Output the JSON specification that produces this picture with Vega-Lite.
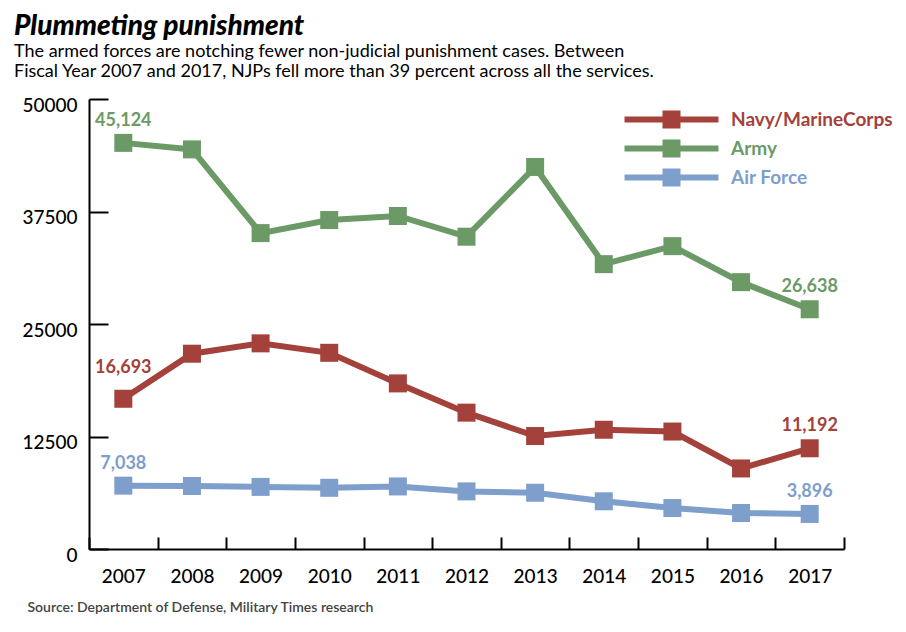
{
  "$schema": "https://vega.github.io/schema/vega-lite/v6.json",
  "width": 755,
  "height": 450,
  "autosize": {"type": "none"},
  "padding": {"left": 89, "top": 99, "right": 62, "bottom": 83},
  "background": "white",
  "title": {
    "text": "Plummeting punishment",
    "subtitle": [
      "The armed forces are notching fewer non-judicial punishment cases. Between",
      "Fiscal Year 2007 and 2017, NJPs fell more than 39 percent across all the services."
    ],
    "anchor": "start",
    "frame": "group",
    "dx": -75,
    "offset": 15,
    "font": "Lato",
    "fontSize": 28,
    "fontWeight": 900,
    "fontStyle": "italic",
    "color": "black",
    "subtitleFont": "Lato",
    "subtitleFontSize": 18,
    "subtitleColor": "black",
    "subtitleLineHeight": 20,
    "subtitlePadding": 2
  },
  "config": {"view": {"stroke": null}, "font": "Lato"},
  "data": {
    "values": [
      {"year": "2007", "service": "Army", "cases": 45124},
      {"year": "2008", "service": "Army", "cases": 44400},
      {"year": "2009", "service": "Army", "cases": 35100},
      {"year": "2010", "service": "Army", "cases": 36550},
      {"year": "2011", "service": "Army", "cases": 37000},
      {"year": "2012", "service": "Army", "cases": 34700},
      {"year": "2013", "service": "Army", "cases": 42450},
      {"year": "2014", "service": "Army", "cases": 31650},
      {"year": "2015", "service": "Army", "cases": 33650},
      {"year": "2016", "service": "Army", "cases": 29650},
      {"year": "2017", "service": "Army", "cases": 26638},
      {"year": "2007", "service": "Navy/MarineCorps", "cases": 16693},
      {"year": "2008", "service": "Navy/MarineCorps", "cases": 21700},
      {"year": "2009", "service": "Navy/MarineCorps", "cases": 22850},
      {"year": "2010", "service": "Navy/MarineCorps", "cases": 21800},
      {"year": "2011", "service": "Navy/MarineCorps", "cases": 18400},
      {"year": "2012", "service": "Navy/MarineCorps", "cases": 15150},
      {"year": "2013", "service": "Navy/MarineCorps", "cases": 12550},
      {"year": "2014", "service": "Navy/MarineCorps", "cases": 13250},
      {"year": "2015", "service": "Navy/MarineCorps", "cases": 13050},
      {"year": "2016", "service": "Navy/MarineCorps", "cases": 8950},
      {"year": "2017", "service": "Navy/MarineCorps", "cases": 11192},
      {"year": "2007", "service": "Air Force", "cases": 7038},
      {"year": "2008", "service": "Air Force", "cases": 7000},
      {"year": "2009", "service": "Air Force", "cases": 6900},
      {"year": "2010", "service": "Air Force", "cases": 6800},
      {"year": "2011", "service": "Air Force", "cases": 6950},
      {"year": "2012", "service": "Air Force", "cases": 6400},
      {"year": "2013", "service": "Air Force", "cases": 6250},
      {"year": "2014", "service": "Air Force", "cases": 5300},
      {"year": "2015", "service": "Air Force", "cases": 4550},
      {"year": "2016", "service": "Air Force", "cases": 4000},
      {"year": "2017", "service": "Air Force", "cases": 3896}
    ]
  },
  "encoding": {
    "x": {
      "field": "year",
      "type": "ordinal",
      "scale": {"type": "band", "paddingInner": 0, "paddingOuter": 0},
      "axis": {
        "title": "Source:  Department of Defense, Military Times research",
        "titleAnchor": "start",
        "titleX": -62,
        "titleY": 62,
        "titleAlign": "left",
        "titleBaseline": "alphabetic",
        "titleFont": "Lato",
        "titleFontSize": 14,
        "titleFontWeight": 600,
        "titleColor": "#444444",
        "labelAngle": 0,
        "labelFont": "Lato",
        "labelFontSize": 19,
        "labelFontWeight": 500,
        "labelColor": "black",
        "labelPadding": 30,
        "tickBand": "extent",
        "tickSize": -12,
        "tickWidth": 2,
        "tickColor": "black",
        "domainColor": "black",
        "domainWidth": 2,
        "grid": false
      }
    },
    "y": {
      "field": "cases",
      "type": "quantitative",
      "scale": {"domain": [0, 50000]},
      "axis": {
        "title": null,
        "values": [0, 12500, 25000, 37500, 50000],
        "format": "d",
        "labelFont": "Lato",
        "labelFontSize": 19,
        "labelFontWeight": 500,
        "labelColor": "black",
        "labelPadding": 31,
        "labelOffset": 6,
        "tickSize": -19,
        "tickWidth": 2,
        "tickColor": "black",
        "domainColor": "black",
        "domainWidth": 2,
        "grid": false
      }
    },
    "color": {
      "field": "service",
      "type": "nominal",
      "scale": {
        "domain": ["Navy/MarineCorps", "Army", "Air Force"],
        "range": ["#a3413a", "#6b9a67", "#7e9ecc"]
      },
      "legend": {
        "title": null,
        "orient": "none",
        "legendX": 573,
        "legendY": 11,
        "symbolType": "M-5.22,-0.333H5.22V0.333H-5.22Z M-1,-1H1V1H-1Z",
        "symbolSize": 324,
        "symbolStrokeWidth": 0,
        "labelFont": "Lato",
        "labelFontSize": 19,
        "labelFontWeight": "bold",
        "labelOffset": 50,
        "labelLimit": 300,
        "rowPadding": 9,
        "encode": {
          "symbols": {
            "update": {
              "fill": {"scale": "color", "field": "value"},
              "stroke": {"value": "transparent"},
              "opacity": {"value": 1}
            }
          },
          "labels": {
            "update": {"fill": {"scale": "color", "field": "value"}}
          }
        }
      }
    }
  },
  "layer": [
    {
      "mark": {
        "type": "line",
        "strokeWidth": 6,
        "point": {"shape": "square", "size": 324, "filled": true, "opacity": 1}
      }
    },
    {
      "transform": [
        {"filter": "(datum.year == '2007' || datum.year == '2017') && !(datum.year == '2007' && datum.service == 'Navy/MarineCorps')"}
      ],
      "mark": {"type": "text", "fontSize": 18, "fontWeight": "bold", "dy": -17, "baseline": "alphabetic", "font": "Lato"},
      "encoding": {"text": {"field": "cases", "type": "quantitative", "format": ","}}
    },
    {
      "transform": [
        {"filter": "datum.year == '2007' && datum.service == 'Navy/MarineCorps'"}
      ],
      "mark": {"type": "text", "fontSize": 18, "fontWeight": "bold", "dy": -26, "baseline": "alphabetic", "font": "Lato"},
      "encoding": {"text": {"field": "cases", "type": "quantitative", "format": ","}}
    }
  ]
}
